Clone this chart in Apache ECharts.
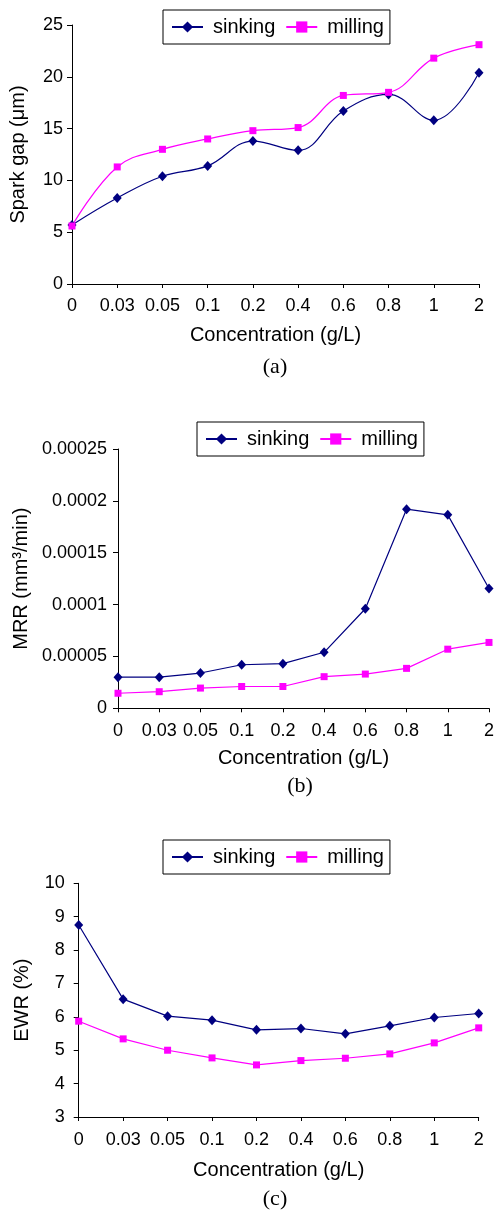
<!DOCTYPE html>
<html>
<head>
<meta charset="utf-8">
<script src="https://cdn.jsdelivr.net/npm/echarts@6/dist/echarts.min.js"></script>
<style>
  html, body { margin: 0; padding: 0; background: #fff; }
  #chart { width: 497px; height: 1211px; }
</style>
</head>
<body>
<div id="chart"></div>
<script>
// Concentration levels (g/L) shared by all three panels
const concentrations = ['0', '0.03', '0.05', '0.1', '0.2', '0.4', '0.6', '0.8', '1', '2'];
const seriesNames = ['sinking', 'milling'];

// (a) Spark gap (µm)
const gapSinking = [5.7, 8.3, 10.4, 11.4, 13.8, 12.9, 16.7, 18.3, 15.8, 20.4];
const gapMilling = [5.6, 11.3, 13.0, 14.0, 14.8, 15.1, 18.2, 18.5, 21.8, 23.1];

// (b) Material removal rate (mm³/min)
const mrrSinking = [0.000030, 0.000030, 0.000034, 0.000042, 0.000043, 0.000054, 0.000096, 0.000192, 0.0001865, 0.0001155];
const mrrMilling = [0.0000145, 0.000016, 0.0000195, 0.000021, 0.000021, 0.0000305, 0.000033, 0.0000385, 0.000057, 0.0000635];
const mrrTickLabels = ['0', '0.00005', '0.0001', '0.00015', '0.0002', '0.00025'];

// (c) Electrode wear ratio (%)
const ewrSinking = [8.75, 6.53, 6.02, 5.9, 5.61, 5.65, 5.49, 5.73, 5.98, 6.1];
const ewrMilling = [5.87, 5.34, 5.0, 4.77, 4.56, 4.69, 4.76, 4.89, 5.22, 5.67];

const SANS = '"Liberation Sans", Arial, sans-serif';
const SERIF = '"Liberation Serif", "Times New Roman", serif';
const NAVY = '#000080';
const MAGENTA = '#FF00FF';

const chart = echarts.init(document.getElementById('chart'), null, { renderer: 'canvas' });

const grids = [
  { left: 72, top: 25, width: 407, height: 259 },
  { left: 118, top: 449, width: 373, height: 259.3 },
  { left: 78.7, top: 883.3, width: 400, height: 233.7 }
];

function xAxisFor(i, labelMargin, nameGap) {
  return {
    type: 'category', gridIndex: i, data: concentrations, boundaryGap: false,
    axisLine: { lineStyle: { color: '#000', width: 1 } },
    axisTick: { show: true, length: 4, inside: false, alignWithLabel: true, lineStyle: { color: '#000' } },
    axisLabel: { color: '#000', fontFamily: SANS, fontSize: 18, margin: labelMargin, interval: 0 },
    splitLine: { show: false },
    name: 'Concentration (g/L)', nameLocation: 'middle', nameGap: nameGap,
    nameTextStyle: { color: '#000', fontFamily: SANS, fontSize: 20 }
  };
}

function yAxisFor(i, min, max, interval, name, nameGap, labelMargin, formatter) {
  const ax = {
    type: 'value', gridIndex: i, min: min, max: max, interval: interval,
    axisLine: { show: true, lineStyle: { color: '#000', width: 1 } },
    axisTick: { show: true, length: 5, lineStyle: { color: '#000' } },
    axisLabel: { color: '#000', fontFamily: SANS, fontSize: 18, margin: labelMargin },
    splitLine: { show: false },
    name: name, nameLocation: 'middle', nameGap: nameGap, nameRotate: 90,
    nameTextStyle: { color: '#000', fontFamily: SANS, fontSize: 20 }
  };
  if (formatter) ax.axisLabel.formatter = formatter;
  return ax;
}

function legendAt(left, top) {
  return {
    left: left, top: top, orient: 'horizontal',
    data: seriesNames,
    borderColor: '#000', borderWidth: 1, borderRadius: 0,
    padding: [7, 6, 7, 8],
    itemWidth: 31, itemHeight: 14, itemGap: 10,
    selectedMode: false,
    textStyle: { color: '#000', fontFamily: SANS, fontSize: 20, padding: [0, 0, 0, 5] }
  };
}

function lineSeries(name, i, data, smooth) {
  const isSinking = name === 'sinking';
  return {
    type: 'line', name: name, xAxisIndex: i, yAxisIndex: i, data: data,
    smooth: smooth,
    symbol: isSinking ? 'diamond' : 'rect',
    symbolSize: isSinking ? [9, 10] : 7,
    showAllSymbol: true,
    color: isSinking ? NAVY : MAGENTA,
    lineStyle: { width: 1.2, color: isSinking ? NAVY : MAGENTA },
    itemStyle: { color: isSinking ? NAVY : MAGENTA },
    emphasis: { disabled: true },
    animation: false
  };
}

function caption(text, x, y) {
  return {
    type: 'text', left: x, top: y,
    style: { text: text, font: '22px ' + SERIF, fill: '#000', textAlign: 'center', textVerticalAlign: 'middle' }
  };
}

const option = {
  backgroundColor: '#fff',
  animation: false,
  grid: grids,
  legend: [legendAt(163, 10), legendAt(197, 422), legendAt(163, 840)],
  xAxis: [
    xAxisFor(0, 13, 41),
    xAxisFor(1, 14, 40),
    xAxisFor(2, 14, 43)
  ],
  yAxis: [
    yAxisFor(0, 0, 25, 5, 'Spark gap (μm)', 44, 9),
    yAxisFor(1, 0, 0.00025, 0.00005, 'MRR (mm³/min)', 87, 11,
      v => mrrTickLabels[Math.round(v / 0.00005)]),
    yAxisFor(2, 3, 10, 1, 'EWR (%)', 46, 14)
  ],
  series: [
    lineSeries('sinking', 0, gapSinking, 0.4),
    lineSeries('milling', 0, gapMilling, 0.4),
    lineSeries('sinking', 1, mrrSinking, false),
    lineSeries('milling', 1, mrrMilling, false),
    lineSeries('sinking', 2, ewrSinking, false),
    lineSeries('milling', 2, ewrMilling, false)
  ],
  graphic: [
    { type: 'text', x: 275, y: 367, style: { text: '(a)', font: '22px ' + SERIF, fill: '#000', align: 'center', verticalAlign: 'middle' } },
    { type: 'text', x: 300, y: 786, style: { text: '(b)', font: '22px ' + SERIF, fill: '#000', align: 'center', verticalAlign: 'middle' } },
    { type: 'text', x: 275, y: 1199, style: { text: '(c)', font: '22px ' + SERIF, fill: '#000', align: 'center', verticalAlign: 'middle' } }
  ]
};

chart.setOption(option);
</script>
</body>
</html>
